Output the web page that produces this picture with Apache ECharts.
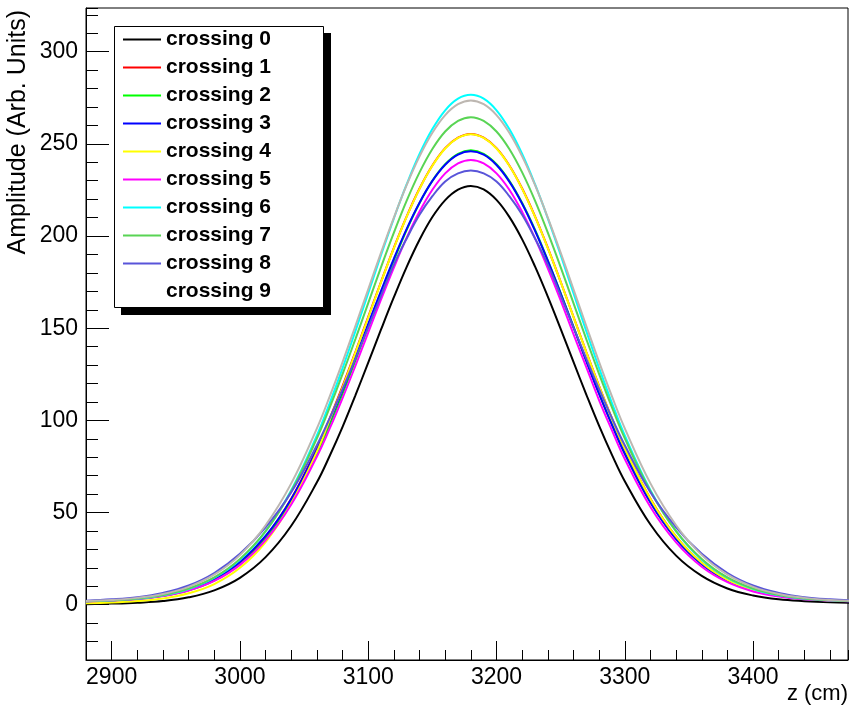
<!DOCTYPE html>
<html><head><meta charset="utf-8">
<script src="https://cdn.jsdelivr.net/npm/echarts@6/dist/echarts.min.js"></script>
<style>html,body{margin:0;padding:0;background:#fff}#c{width:849px;height:719px}</style>
</head><body><div id="c"></div>
<script>
const zValues = [2880, 2900, 2920, 2940, 2960, 2980, 3000, 3020, 3040, 3060,
  3070, 3080, 3090, 3100, 3110, 3120, 3130, 3140, 3150, 3160, 3170, 3180,
  3190, 3200, 3210, 3220, 3230, 3240, 3250, 3260, 3270, 3280, 3290,
  3300, 3320, 3340, 3360, 3380, 3400, 3420, 3440, 3460, 3480];

const crossing0 = [0.3, 0.6, 1.1, 2.0, 4.0, 7.8, 14.6, 25.8, 42.8, 66.4,
  80.8, 96.5, 113.6, 131.3, 149.3, 166.8, 183.3, 198.0, 210.3, 219.5, 225.2, 227.2,
  225.3, 219.6, 210.4, 198.2, 183.5, 167.1, 149.6, 131.7, 114.0, 97.0, 81.3,
  67.0, 43.5, 26.6, 15.6, 8.8, 5.0, 2.9, 1.9, 1.3, 1.0];
const crossing1 = [1.9, 2.3, 3.2, 4.9, 8.0, 13.5, 22.7, 36.9, 57.5, 84.9,
  101.1, 118.6, 137.1, 156.2, 175.2, 193.6, 210.7, 225.8, 238.3, 247.7, 253.4, 255.4,
  253.4, 247.7, 238.3, 225.8, 210.7, 193.6, 175.2, 156.2, 137.1, 118.6, 101.1,
  84.9, 57.5, 36.9, 22.7, 13.5, 8.0, 4.9, 3.2, 2.3, 1.9];
const crossing2 = [1.8, 2.3, 3.1, 4.8, 7.8, 13.1, 22.0, 35.7, 55.6, 82.0,
  97.7, 114.5, 132.4, 150.8, 169.1, 186.8, 203.4, 217.9, 230.0, 239.0, 244.6, 246.5,
  244.6, 239.0, 230.0, 217.9, 203.4, 186.8, 169.1, 150.8, 132.4, 114.5, 97.7,
  82.0, 55.6, 35.7, 22.0, 13.1, 7.8, 4.8, 3.1, 2.3, 1.8];
const crossing3 = [1.9, 2.4, 3.3, 5.1, 8.4, 14.0, 23.2, 37.3, 57.4, 84.1,
  99.7, 116.4, 134.1, 152.3, 170.3, 187.7, 203.9, 218.1, 229.9, 238.7, 244.2, 246.0,
  244.1, 238.5, 229.5, 217.5, 202.9, 186.5, 168.8, 150.5, 132.1, 114.3, 97.5,
  81.9, 55.4, 35.6, 22.0, 13.1, 7.8, 4.8, 3.1, 2.3, 1.8];
const crossing4 = [0.8, 1.2, 2.0, 3.4, 6.2, 11.2, 20.0, 34.0, 55.0, 83.0,
  100.3, 117.8, 136.7, 155.8, 175.0, 193.4, 210.5, 225.6, 238.1, 247.5, 253.2, 255.2,
  253.2, 247.5, 238.1, 225.6, 210.5, 193.4, 175.1, 156.1, 137.0, 118.5, 101.0,
  84.9, 57.4, 36.9, 22.7, 13.5, 8.0, 4.9, 3.2, 2.3, 1.9];
const crossing5 = [1.8, 2.3, 3.1, 4.7, 7.7, 12.9, 21.6, 35.0, 54.4, 80.4,
  95.6, 112.1, 129.6, 147.6, 165.6, 182.9, 199.1, 213.3, 225.1, 234.0, 239.4, 241.3,
  239.4, 234.0, 225.1, 213.1, 198.9, 182.4, 165.1, 146.8, 128.9, 110.9, 94.6,
  79.0, 53.0, 33.8, 20.6, 12.2, 7.2, 4.4, 2.9, 2.2, 1.7];
const crossing6 = [1.9, 2.4, 3.3, 5.1, 8.5, 14.5, 24.4, 39.8, 62.1, 91.8,
  109.4, 128.3, 148.4, 169.0, 189.7, 209.6, 228.1, 244.5, 258.0, 268.2, 274.5, 276.6,
  274.5, 268.2, 258.0, 244.5, 228.1, 209.6, 189.7, 169.0, 148.4, 128.3, 109.4,
  91.8, 62.1, 39.8, 24.4, 14.5, 8.5, 5.1, 3.3, 2.4, 1.9];
const crossing7 = [1.9, 2.4, 3.4, 5.3, 8.8, 14.8, 24.8, 39.9, 61.6, 90.2,
  107.0, 125.1, 144.1, 163.6, 183.1, 201.8, 219.2, 234.5, 247.2, 256.7, 262.5, 264.5,
  262.5, 256.7, 247.2, 234.5, 219.2, 201.8, 183.1, 163.6, 144.1, 125.1, 107.0,
  90.2, 61.6, 39.9, 24.8, 14.8, 8.8, 5.3, 3.4, 2.4, 1.9];
const crossing8 = [2.2, 2.9, 4.1, 6.4, 10.4, 17.2, 27.6, 42.0, 61.0, 86.5,
  101.2, 117.0, 133.5, 150.5, 167.7, 184.5, 198.7, 211.5, 221.6, 229.6, 234.0, 235.5,
  234.0, 229.6, 221.6, 211.5, 198.7, 184.5, 167.7, 150.5, 133.5, 117.0, 101.2,
  86.5, 61.0, 42.0, 27.6, 17.2, 10.4, 6.4, 4.1, 2.9, 2.2];
const crossing9 = [2.0, 2.6, 3.7, 5.8, 9.7, 16.3, 26.9, 43.1, 65.8, 95.7,
  113.0, 131.6, 151.2, 171.1, 191.0, 210.0, 227.7, 243.2, 256.0, 265.6, 271.5, 273.5,
  271.5, 265.6, 256.0, 243.2, 227.7, 210.0, 191.0, 171.1, 151.2, 131.6, 113.0,
  95.7, 65.8, 43.1, 26.9, 16.3, 9.7, 5.8, 3.7, 2.6, 2.0];

const seriesNames = ['crossing 0', 'crossing 1', 'crossing 2', 'crossing 3', 'crossing 4',
  'crossing 5', 'crossing 6', 'crossing 7', 'crossing 8', 'crossing 9'];
const seriesValues = [crossing0, crossing1, crossing2, crossing3, crossing4,
  crossing5, crossing6, crossing7, crossing8, crossing9];
const lineColors = ['#000000', '#ff0000', '#00ff00', '#0000ff', '#ffff00',
  '#ff00ff', '#00ffff', '#59d454', '#5954d9', '#bdb7b1'];
const legendColors = ['#000000', '#ff0000', '#00ff00', '#0000ff', '#ffff00',
  '#ff00ff', '#00ffff', '#59d454', '#5954d9', '#ffffff'];

const xTitle = 'z (cm)';
const yTitle = 'Amplitude (Arb. Units)';
const FONT = "'Liberation Sans', Arial, Helvetica, sans-serif";

const chart = echarts.init(document.getElementById('c'), null, {renderer: 'canvas'});

const series = seriesNames.map((name, i) => ({
  name: name,
  type: 'line',
  xAxisIndex: 0,
  yAxisIndex: 0,
  data: zValues.map((z, j) => [z, seriesValues[i][j]]),
  smooth: 0.4,
  symbol: 'none',
  clip: true,
  itemStyle: {color: lineColors[i]},
  lineStyle: {color: lineColors[i], width: 2},
  emphasis: {disabled: true}
}));

const tickLine = {color: '#000', width: 1};
const plainNum = (v) => String(v);

chart.setOption({
  animation: false,
  backgroundColor: '#ffffff',
  grid: {left: 86, right: 1, top: 8, bottom: 59, show: true, borderColor: '#000', borderWidth: 1, backgroundColor: 'transparent'},
  xAxis: [{
    type: 'value', min: 2880, max: 3474, splitNumber: 5, position: 'bottom',
    axisLine: {show: true, onZero: false, lineStyle: tickLine},
    axisTick: {show: true, inside: true, length: 19, lineStyle: tickLine},
    axisLabel: {show: true, margin: 6, fontSize: 23, color: '#000', fontFamily: FONT, formatter: plainNum, showMinLabel: false, showMaxLabel: false},
    splitLine: {show: false}
  }, {
    type: 'value', min: 2880, max: 3474, interval: 20, position: 'bottom',
    axisLine: {show: false, onZero: false},
    axisTick: {show: true, inside: true, length: 10, lineStyle: tickLine},
    axisLabel: {show: false},
    splitLine: {show: false}
  }],
  yAxis: [{
    type: 'value', min: -30, max: 323.7, splitNumber: 7, position: 'left',
    axisLine: {show: true, onZero: false, lineStyle: tickLine},
    axisTick: {show: true, inside: true, length: 23, lineStyle: tickLine},
    axisLabel: {show: true, margin: 8, fontSize: 23, color: '#000', fontFamily: FONT, formatter: plainNum, showMinLabel: false, showMaxLabel: false},
    splitLine: {show: false}
  }, {
    type: 'value', min: -30, max: 323.7, interval: 10, position: 'left',
    axisLine: {show: false, onZero: false},
    axisTick: {show: true, inside: true, length: 12, lineStyle: tickLine},
    axisLabel: {show: false},
    splitLine: {show: false}
  }],
  legend: {
    show: true,
    orient: 'vertical',
    left: 123, top: 29,
    padding: 0,
    itemGap: 7,
    itemWidth: 38, itemHeight: 2,
    icon: 'rect',
    selectedMode: false,
    z: 20,
    textStyle: {fontSize: 21, fontWeight: 'bold', color: '#000', fontFamily: FONT, lineHeight: 21},
    data: seriesNames.map((n, i) => ({name: n, itemStyle: {color: legendColors[i]}}))
  },
  graphic: [
    {type: 'rect', z: 10, shape: {x: 121, y: 33, width: 210, height: 282}, style: {fill: '#000'}},
    {type: 'rect', z: 11, shape: {x: 114.5, y: 26.5, width: 209, height: 281}, style: {fill: '#fff', stroke: '#000', lineWidth: 1}},
    {type: 'text', z: 12, x: 18, y: 10, rotation: Math.PI / 2,
      style: {text: yTitle, font: '25px ' + FONT, fill: '#000', align: 'right', verticalAlign: 'middle'}},
    {type: 'text', z: 12, x: 848, y: 694,
      style: {text: xTitle, font: '22px ' + FONT, fill: '#000', align: 'right', verticalAlign: 'middle'}}
  ],
  series: series
});
</script></body></html>
